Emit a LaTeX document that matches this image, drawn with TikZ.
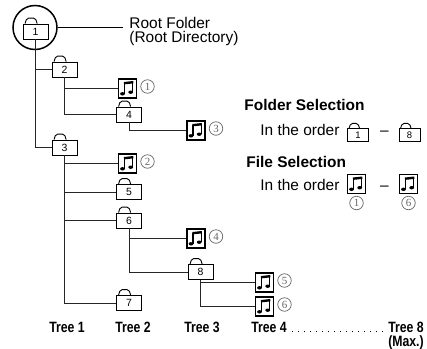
\documentclass[tikz,border=0pt]{standalone}
\usepackage{fontspec}
\setmainfont{Liberation Sans}
\newfontfamily\numfont{Liberation Serif}
\newfontfamily\treefont[FakeStretch=0.82]{Liberation Sans}
\usetikzlibrary{positioning}

\begin{document}
\begin{tikzpicture}[x=1bp, y=-1bp, line width=0.9bp,
    folder/.style={draw, minimum width=25bp, minimum height=15bp, inner sep=0pt, font=\fontsize{10.5}{10.5}\selectfont},
    smallfolder/.style={folder, minimum width=21bp, minimum height=13bp, font=\fontsize{9.5}{9.5}\selectfont},
    notebox/.style={draw, line width=1.8bp, minimum width=18bp, minimum height=19bp, inner sep=0pt,
      path picture={
        \begin{scope}[shift={(path picture bounding box.center)}, line width=1.1bp]
          \fill[rotate around={25:(-5bp,-5.3bp)}] (-5bp,-5.3bp) ellipse (2.4bp and 1.7bp);
          \fill[rotate around={25:(3.2bp,-3.7bp)}] (3.2bp,-3.7bp) ellipse (2.4bp and 1.7bp);
          \draw (-3bp,-5bp) -- (-3bp,6bp);
          \draw (5.3bp,-3.5bp) -- (5.3bp,7bp);
          \draw[line width=2.4bp] (-3.55bp,5.3bp) -- (5.85bp,6.3bp);
        \end{scope}}},
    circnum/.style={circle, draw=black!60, text=black!60, line width=0.7bp, minimum size=13.5bp, inner sep=0pt, font=\numfont\fontsize{11}{11}\selectfont},
    treelbl/.style={inner sep=0pt, anchor=base, font=\treefont\bfseries\fontsize{15}{15}\selectfont},
    txt/.style={inner sep=0pt, anchor=west, align=left, font=\fontsize{15.5}{15}\selectfont},
    head/.style={txt, font=\bfseries\fontsize{15.5}{15}\selectfont}]
  \useasboundingbox (0,0) rectangle (427,349);

  % root folder
  \node[folder] (f1) at (35.5,31.5) {1};
  \node[draw, circle, line width=1.5bp, minimum size=44bp] (root) at (35,27.5) {};
  \node[txt] (rootlbl) at (129,31.5) {Root Folder\\(Root Directory)};
  \draw (root.east) -- ([xshift=-6bp]rootlbl.west |- root.east);

  % folders
  \node[folder] (f2) at (64.5,69.5) {2};
  \node[folder] (f3) at (64.5,147.5) {3};
  \node[folder] (f4) at (129,114.5) {4};
  \node[folder] (f5) at (129,192) {5};
  \node[folder] (f6) at (129,220.5) {6};
  \node[folder] (f7) at (129,303) {7};
  \node[folder] (f8) at (200.5,272) {8};

  % files
  \node[notebox] (n1) at (127.5,88.5) {};
  \node[notebox] (n2) at (127.5,163.5) {};
  \node[notebox] (n3) at (196,130.5) {};
  \node[notebox] (n4) at (196,238.5) {};
  \node[notebox] (n5) at (264.5,282.5) {};
  \node[notebox] (n6) at (264.5,306.5) {};
  \foreach \i in {1,...,6}
    \node[circnum, right=3bp of n\i, yshift=2bp] (c\i) {\i};

  % legend
  \node[head] (foldsel) at (244,105) {Folder Selection};
  \node[txt] (order1) at (260,130) {In the order};
  \node[smallfolder] (lf1) at (358,135) {1};
  \node[txt, anchor=center] (dash1) at (384.5,133) {–};
  \node[smallfolder] (lf8) at (409.5,135) {8};
  \node[head] (filesel) at (246,162) {File Selection};
  \node[txt] (order2) at (260,185) {In the order};
  \node[notebox] (ln1) at (356.5,184) {};
  \node[txt, anchor=center] (dash2) at (384.5,188) {–};
  \node[notebox] (ln6) at (408.5,184) {};
  \node[circnum, below=1.5bp of ln1] (lc1) {1};
  \node[circnum, below=1.5bp of ln6] (lc6) {6};

  % folder tabs
  \foreach \f/\s in {f1/1,f2/1,f3/1,f4/1,f5/1,f6/1,f7/1,f8/1,lf1/0.85,lf8/0.85}
    \draw[rounded corners=1.8bp] ([xshift=\s*2.5bp]\f.north west) -- ++(\s*1.8bp,\s*5.5bp)
      -- ++(\s*8.5bp,0) -- ++(\s*1.8bp,-\s*5.5bp);

  % tree lines
  \foreach \a/\b in {f1/f2,f1/f3,f2/n1,f2/f4,f4/n3,f3/n2,f3/f5,f3/f6,f3/f7,f6/n4,f6/f8,f8/n5,f8/n6}
    \draw[black!85] (\a.south) |- (\b.west);

  % tree levels
  \node[treelbl] (t1) at (67,332) {Tree 1};
  \node[treelbl] (t2) at (133,332) {Tree 2};
  \node[treelbl] (t3) at (202,332) {Tree 3};
  \node[treelbl] (t4) at (269,332) {Tree 4};
  \node[treelbl] (t8) at (406,332) {Tree 8};
  \node[treelbl] (tmax) at (406,346.5) {(Max.)};
  \draw[dash pattern=on 1.2bp off 4.8bp] ([xshift=5bp,yshift=0.5bp]t4.base east) -- ([xshift=-2bp,yshift=0.5bp]t8.base west);
\end{tikzpicture}
\end{document}
